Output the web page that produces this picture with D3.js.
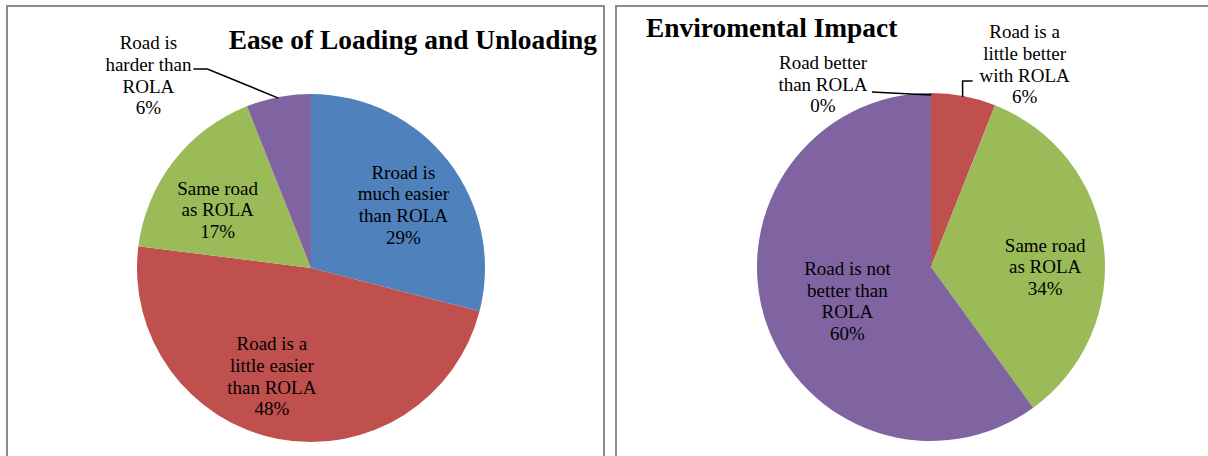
<!DOCTYPE html>
<html>
<head>
<meta charset="utf-8">
<script src="https://cdn.jsdelivr.net/npm/d3@7/dist/d3.min.js"></script>
<style>
  html, body { margin: 0; padding: 0; background: #fff; }
  svg { display: block; }
</style>
</head>
<body>
<svg id="chart" width="1208" height="456"></svg>
<script>
// Ease of Loading and Unloading
const loadCategories = [
  "Rroad is much easier than ROLA",
  "Road is a little easier than ROLA",
  "Same road as ROLA",
  "Road is harder than ROLA"
];
const loadValues = [29, 48, 17, 6];
const loadLabelLines = [
  ["Rroad is", "much easier", "than ROLA"],
  ["Road is a", "little easier", "than ROLA"],
  ["Same road", "as ROLA"],
  ["Road is", "harder than", "ROLA"]
];

// Enviromental Impact
const envCategories = [
  "Road better than ROLA",
  "Road is a little better with ROLA",
  "Same road as ROLA",
  "Road is not better than ROLA"
];
const envValues = [0, 6, 34, 60];
const envLabelLines = [
  ["Road better", "than ROLA"],
  ["Road is a", "little better", "with ROLA"],
  ["Same road", "as ROLA"],
  ["Road is not", "better than", "ROLA"]
];

const titles = ["Ease of Loading and Unloading", "Enviromental Impact"];

const loadColors = ["#4F81BD", "#C0504D", "#9BBB59", "#8064A2"];
const envColors = ["#4F81BD", "#C0504D", "#9BBB59", "#8064A2"];

const SERIF = "'Liberation Serif', 'Times New Roman', 'DejaVu Serif', serif";
const svg = d3.select("#chart");
const LINE_H = 21.8;
const FONT = 19;

// panel frames
const panels = [
  { x: 7, y: 6, w: 597, h: 470 },
  { x: 616, y: 6, w: 600, h: 470 }
];
panels.forEach(p => {
  svg.append("rect")
    .attr("x", p.x).attr("y", p.y).attr("width", p.w).attr("height", p.h)
    .attr("fill", "none").attr("stroke", "#8c8c8c").attr("stroke-width", 2);
});

// label layout per slice: inside labels are nudged from the slice centroid,
// outside labels sit away from the rim with a leader line
const loadLayout = [
  { mode: "in", dx: 3, dy: 6 },
  { mode: "in", dx: -18, dy: -3 },
  { mode: "in", dx: -4, dy: 11 },
  { mode: "out", bx: -130, by: -22, leader: [[-85, -28], [-71, -28]] }
];
const envLayout = [
  { mode: "out", bx: -108, by: -9, leader: [[-59, -1], [-1, 2]] },
  { mode: "out", bx: 61, by: -32, leader: [[9, -15], [-1, -15]], elbow: true },
  { mode: "in", dx: 2, dy: 14 },
  { mode: "in", dx: 24, dy: -1 }
];

function drawPie(cfg) {
  const g = svg.append("g").attr("transform", `translate(${cfg.cx},${cfg.cy})`);
  const R = cfg.r;
  const pie = d3.pie().sort(null).value(d => d)(cfg.values);
  const arc = d3.arc().innerRadius(0).outerRadius(R);
  const mid = d3.arc().innerRadius(R * 0.65).outerRadius(R * 0.65);

  g.selectAll("path.slice")
    .data(pie)
    .join("path")
    .attr("class", "slice")
    .attr("d", arc)
    .attr("fill", (d, i) => cfg.colors[i]);

  pie.forEach((d, i) => {
    const lay = cfg.layout[i];
    const lines = cfg.lines[i].concat([d.value + "%"]);
    let cx, cy;
    if (lay.mode === "in") {
      const c = mid.centroid(d);
      cx = c[0] + lay.dx; cy = c[1] + lay.dy;
    } else {
      const a = (d.startAngle + d.endAngle) / 2;
      const p = [Math.sin(a) * R, -Math.cos(a) * R];
      cx = p[0] + lay.bx; cy = p[1] + lay.by;
      // leader from label to rim
      const pts = lay.leader.map(q => [p[0] + q[0], p[1] + q[1]]);
      const end = lay.elbow ? [pts[1][0], p[1] + 1] : [p[0], p[1] + 1];
      g.append("path")
        .attr("d", d3.line()([pts[0], pts[1], end]))
        .attr("fill", "none").attr("stroke", "#000").attr("stroke-width", 1.5);
    }
    const t = g.append("text")
      .attr("text-anchor", "middle")
      .attr("font-family", SERIF)
      .attr("font-size", FONT)
      .attr("fill", "#000");
    lines.forEach((ln, k) => {
      t.append("tspan")
        .attr("x", cx)
        .attr("y", cy + (k - (lines.length - 1) / 2) * LINE_H)
        .attr("dy", "0.35em")
        .text(ln);
    });
  });
}

drawPie({ cx: 311, cy: 268, r: 174, values: loadValues, lines: loadLabelLines,
          colors: loadColors, layout: loadLayout });
drawPie({ cx: 931, cy: 267, r: 174, values: envValues, lines: envLabelLines,
          colors: envColors, layout: envLayout });

svg.append("text")
  .attr("x", 597).attr("y", 49)
  .attr("text-anchor", "end")
  .attr("font-family", SERIF)
  .attr("font-size", 27.4).attr("font-weight", "bold")
  .text(titles[0]);
svg.append("text")
  .attr("x", 646).attr("y", 37)
  .attr("font-family", SERIF)
  .attr("font-size", 27.4).attr("font-weight", "bold")
  .text(titles[1]);
</script>
</body>
</html>
